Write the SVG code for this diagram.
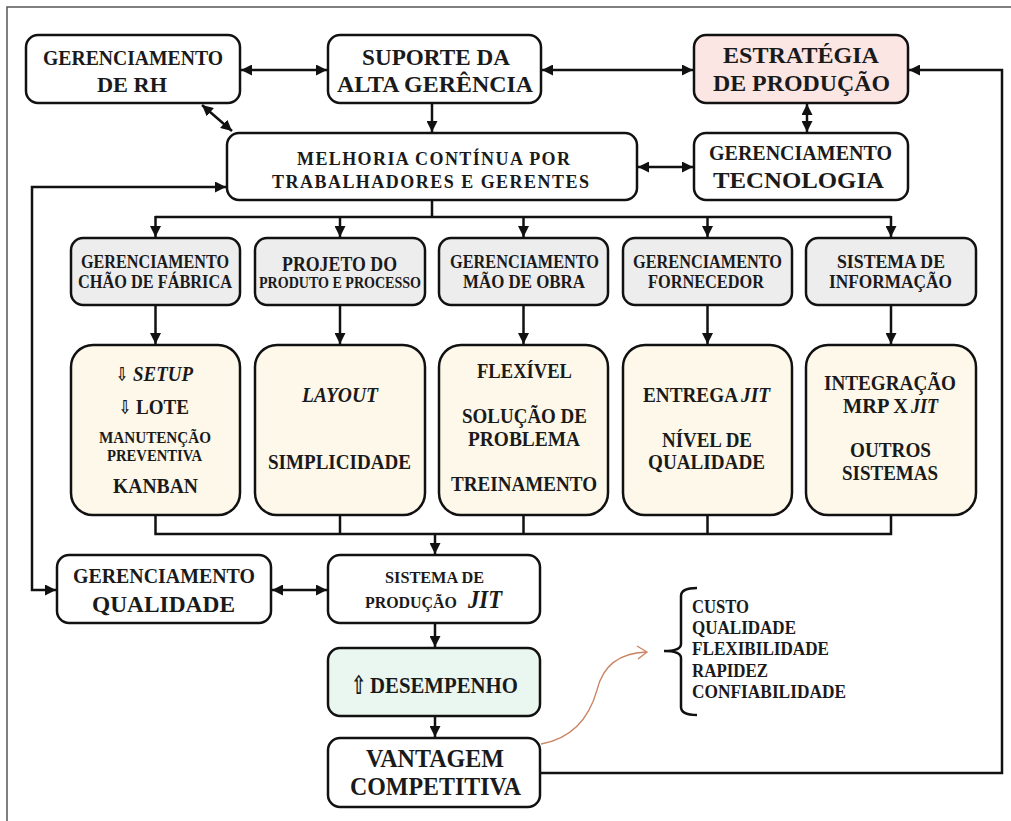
<svg xmlns="http://www.w3.org/2000/svg" width="1011" height="821" viewBox="0 0 1011 821">
  <defs>
    <style>
      .box { stroke: #111; stroke-width: 2.5; fill: #fff; }
      .grey { fill: #ededee; }
      .cream { fill: #fdf8ea; }
      .pink { fill: #fbe6e4; }
      .green { fill: #eaf7f0; }
      .t { font-family: "Liberation Serif", "Times New Roman", serif; font-weight: bold; fill: #1a1a1a; }
      .i { font-style: italic; }
      .sym { font-family: "DejaVu Sans", sans-serif; font-weight: bold; fill: #1a1a1a; }
      .c { stroke: #111; stroke-width: 2.5; fill: none; }
      .curve { stroke: #c98462; stroke-width: 1.3; fill: none; }
    </style>
    <marker id="ah" viewBox="0 0 10 10" refX="10" refY="5" markerWidth="11" markerHeight="11" markerUnits="userSpaceOnUse" orient="auto-start-reverse">
      <path d="M0,0 L10,5 L0,10 z" fill="#111"/>
    </marker>
  </defs>

  <rect width="1011" height="821" fill="#fff"/>
  <!-- page frame -->
  <rect x="7" y="7" width="1030" height="840" fill="none" stroke="#555" stroke-width="1.5"/>

  <!-- connectors -->
  <g id="connectors">
    <line class="c" x1="241" y1="70" x2="327" y2="70" marker-start="url(#ah)" marker-end="url(#ah)"/>
    <line class="c" x1="542" y1="70" x2="693" y2="70" marker-start="url(#ah)" marker-end="url(#ah)"/>
    <line class="c" x1="807" y1="104" x2="807" y2="132" marker-start="url(#ah)" marker-end="url(#ah)"/>
    <line class="c" x1="638" y1="167" x2="693" y2="167" marker-start="url(#ah)" marker-end="url(#ah)"/>
    <line class="c" x1="432" y1="104" x2="432" y2="132" marker-end="url(#ah)"/>
    <line class="c" x1="202" y1="105" x2="232" y2="131" marker-start="url(#ah)" marker-end="url(#ah)"/>
    <!-- feedback loop on the left -->
    <polyline class="c" points="226,187 32,187 32,590 56,590" marker-start="url(#ah)" marker-end="url(#ah)"/>
    <!-- feedback loop on the right -->
    <polyline class="c" points="541,773 1002,773 1002,70 909,70" marker-end="url(#ah)"/>
    <!-- distribution bus -->
    <polyline class="c" points="432,200 432,217"/>
    <line class="c" x1="155" y1="217" x2="891" y2="217"/>
    <line class="c" x1="155.5" y1="216" x2="155.5" y2="237" marker-end="url(#ah)"/>
    <line class="c" x1="340" y1="216" x2="340" y2="237" marker-end="url(#ah)"/>
    <line class="c" x1="523.5" y1="216" x2="523.5" y2="237" marker-end="url(#ah)"/>
    <line class="c" x1="707.5" y1="216" x2="707.5" y2="237" marker-end="url(#ah)"/>
    <line class="c" x1="891" y1="216" x2="891" y2="237" marker-end="url(#ah)"/>
    <!-- area to practice -->
    <line class="c" x1="155.5" y1="306" x2="155.5" y2="344" marker-end="url(#ah)"/>
    <line class="c" x1="340" y1="306" x2="340" y2="344" marker-end="url(#ah)"/>
    <line class="c" x1="523.5" y1="306" x2="523.5" y2="344" marker-end="url(#ah)"/>
    <line class="c" x1="707.5" y1="306" x2="707.5" y2="344" marker-end="url(#ah)"/>
    <line class="c" x1="891" y1="306" x2="891" y2="344" marker-end="url(#ah)"/>
    <!-- collector bus -->
    <polyline class="c" points="155.5,516 155.5,534 891,534 891,516"/>
    <line class="c" x1="340" y1="516" x2="340" y2="534"/>
    <line class="c" x1="523.5" y1="516" x2="523.5" y2="534"/>
    <line class="c" x1="707.5" y1="516" x2="707.5" y2="534"/>
    <line class="c" x1="435" y1="533" x2="435" y2="554" marker-end="url(#ah)"/>
    <line class="c" x1="272" y1="590" x2="327" y2="590" marker-start="url(#ah)" marker-end="url(#ah)"/>
    <line class="c" x1="435" y1="624" x2="435" y2="647" marker-end="url(#ah)"/>
    <line class="c" x1="435" y1="717" x2="435" y2="737" marker-end="url(#ah)"/>
    <!-- curved pointer to the list -->
    <path class="curve" d="M541,744 C575,738 590,715 597,690 C603,665 620,653 646,652"/>
    <path class="curve" d="M637,646 L647,652 L638,659"/>
    <!-- brace -->
    <path d="M697,588 Q681,588 681,596 L681,644 Q681,651 664,651 Q681,651 681,658 L681,707 Q681,715 697,715" fill="none" stroke="#111" stroke-width="2.5"/>
  </g>

  <!-- top row -->
  <g id="rh">
    <rect class="box" x="26" y="35" width="214" height="68" rx="12"/>
    <text class="t" x="43" y="65" font-size="22" textLength="180" lengthAdjust="spacingAndGlyphs">GERENCIAMENTO</text>
    <text class="t" x="97" y="92" font-size="22" textLength="70" lengthAdjust="spacingAndGlyphs">DE RH</text>
  </g>
  <g id="suporte">
    <rect class="box" x="328" y="35" width="213" height="68" rx="12"/>
    <text class="t" x="362" y="65" font-size="23" textLength="148" lengthAdjust="spacingAndGlyphs">SUPORTE DA</text>
    <text class="t" x="337" y="92" font-size="23" textLength="196" lengthAdjust="spacingAndGlyphs">ALTA GERÊNCIA</text>
  </g>
  <g id="estrategia">
    <rect class="box pink" x="694" y="35" width="214" height="68" rx="12"/>
    <text class="t" x="723" y="63" font-size="24" textLength="156" lengthAdjust="spacingAndGlyphs">ESTRATÉGIA</text>
    <text class="t" x="713" y="91" font-size="24" textLength="177" lengthAdjust="spacingAndGlyphs">DE PRODUÇÃO</text>
  </g>
  <g id="melhoria">
    <rect class="box" x="227" y="133" width="410" height="67" rx="12"/>
    <text class="t" x="297" y="165" font-size="18" textLength="273" lengthAdjust="spacing">MELHORIA CONTÍNUA POR</text>
    <text class="t" x="272" y="188" font-size="18" textLength="317" lengthAdjust="spacing">TRABALHADORES E GERENTES</text>
  </g>
  <g id="tecnologia">
    <rect class="box" x="694" y="133" width="214" height="67" rx="12"/>
    <text class="t" x="709" y="160" font-size="22" textLength="183" lengthAdjust="spacingAndGlyphs">GERENCIAMENTO</text>
    <text class="t" x="713" y="188" font-size="24" textLength="171" lengthAdjust="spacingAndGlyphs">TECNOLOGIA</text>
  </g>

  <!-- management areas -->
  <g id="area-chao">
    <rect class="box grey" x="71" y="238" width="169" height="67" rx="12"/>
    <text class="t" x="81" y="268" font-size="18" textLength="148" lengthAdjust="spacingAndGlyphs">GERENCIAMENTO</text>
    <text class="t" x="78" y="288" font-size="18" textLength="154" lengthAdjust="spacingAndGlyphs">CHÃO  DE  FÁBRICA</text>
  </g>
  <g id="area-projeto">
    <rect class="box grey" x="255" y="238" width="170" height="67" rx="12"/>
    <text class="t" x="282" y="271" font-size="20" textLength="115" lengthAdjust="spacingAndGlyphs">PROJETO  DO</text>
    <text class="t" x="259" y="288" font-size="16" textLength="162" lengthAdjust="spacingAndGlyphs">PRODUTO E PROCESSO</text>
  </g>
  <g id="area-mao-de-obra">
    <rect class="box grey" x="439" y="238" width="169" height="67" rx="12"/>
    <text class="t" x="450" y="268" font-size="18" textLength="149" lengthAdjust="spacingAndGlyphs">GERENCIAMENTO</text>
    <text class="t" x="463" y="288" font-size="18" textLength="122" lengthAdjust="spacingAndGlyphs">MÃO  DE  OBRA</text>
  </g>
  <g id="area-fornecedor">
    <rect class="box grey" x="623" y="238" width="169" height="67" rx="12"/>
    <text class="t" x="633" y="268" font-size="18" textLength="149" lengthAdjust="spacingAndGlyphs">GERENCIAMENTO</text>
    <text class="t" x="648" y="288" font-size="18" textLength="116" lengthAdjust="spacingAndGlyphs">FORNECEDOR</text>
  </g>
  <g id="area-informacao">
    <rect class="box grey" x="806" y="238" width="170" height="67" rx="12"/>
    <text class="t" x="837" y="268" font-size="18" textLength="108" lengthAdjust="spacingAndGlyphs">SISTEMA  DE</text>
    <text class="t" x="829" y="288" font-size="18" textLength="123" lengthAdjust="spacingAndGlyphs">INFORMAÇÃO</text>
  </g>

  <!-- practices -->
  <g id="pratica-chao">
    <rect class="box cream" x="71" y="345" width="169" height="170" rx="22"/>
    <text class="sym" transform="translate(116 381) scale(0.75 1)" font-size="19">⇩</text>
    <text class="t i" x="133" y="381" font-size="20" textLength="60" lengthAdjust="spacingAndGlyphs">SETUP</text>
    <text class="sym" transform="translate(119 414) scale(0.75 1)" font-size="19">⇩</text>
    <text class="t" x="136" y="414" font-size="20" textLength="53" lengthAdjust="spacingAndGlyphs">LOTE</text>
    <text class="t" x="99" y="443" font-size="16" textLength="112" lengthAdjust="spacingAndGlyphs">MANUTENÇÃO</text>
    <text class="t" x="107" y="461" font-size="16" textLength="95" lengthAdjust="spacingAndGlyphs">PREVENTIVA</text>
    <text class="t" x="113" y="493" font-size="20" textLength="85" lengthAdjust="spacingAndGlyphs">KANBAN</text>
  </g>
  <g id="pratica-projeto">
    <rect class="box cream" x="255" y="345" width="170" height="170" rx="22"/>
    <text class="t i" x="302" y="402" font-size="20" textLength="76" lengthAdjust="spacingAndGlyphs">LAYOUT</text>
    <text class="t" x="268" y="469" font-size="20" textLength="143" lengthAdjust="spacingAndGlyphs">SIMPLICIDADE</text>
  </g>
  <g id="pratica-mao-de-obra">
    <rect class="box cream" x="439" y="345" width="169" height="170" rx="22"/>
    <text class="t" x="477" y="378" font-size="20" textLength="95" lengthAdjust="spacingAndGlyphs">FLEXÍVEL</text>
    <text class="t" x="462" y="423" font-size="20" textLength="125" lengthAdjust="spacingAndGlyphs">SOLUÇÃO DE</text>
    <text class="t" x="468" y="446" font-size="20" textLength="112" lengthAdjust="spacingAndGlyphs">PROBLEMA</text>
    <text class="t" x="451" y="491" font-size="20" textLength="146" lengthAdjust="spacingAndGlyphs">TREINAMENTO</text>
  </g>
  <g id="pratica-fornecedor">
    <rect class="box cream" x="623" y="345" width="169" height="170" rx="22"/>
    <text class="t" x="643" y="402" font-size="20" textLength="95" lengthAdjust="spacingAndGlyphs">ENTREGA</text>
    <text class="t i" x="741" y="402" font-size="20" textLength="29" lengthAdjust="spacingAndGlyphs">JIT</text>
    <text class="t" x="662" y="447" font-size="20" textLength="90" lengthAdjust="spacingAndGlyphs">NÍVEL DE</text>
    <text class="t" x="648" y="469" font-size="20" textLength="117" lengthAdjust="spacingAndGlyphs">QUALIDADE</text>
  </g>
  <g id="pratica-informacao">
    <rect class="box cream" x="806" y="345" width="170" height="170" rx="22"/>
    <text class="t" x="824" y="390" font-size="20" textLength="132" lengthAdjust="spacingAndGlyphs">INTEGRAÇÃO</text>
    <text class="t" x="843" y="413" font-size="20" textLength="65" lengthAdjust="spacingAndGlyphs">MRP X</text>
    <text class="t i" x="911" y="413" font-size="20" textLength="27" lengthAdjust="spacingAndGlyphs">JIT</text>
    <text class="t" x="850" y="457" font-size="20" textLength="81" lengthAdjust="spacingAndGlyphs">OUTROS</text>
    <text class="t" x="842" y="480" font-size="20" textLength="96" lengthAdjust="spacingAndGlyphs">SISTEMAS</text>
  </g>

  <!-- bottom chain -->
  <g id="qualidade">
    <rect class="box" x="57" y="555" width="214" height="68" rx="12"/>
    <text class="t" x="73" y="583" font-size="22" textLength="182" lengthAdjust="spacingAndGlyphs">GERENCIAMENTO</text>
    <text class="t" x="92" y="612" font-size="24" textLength="143" lengthAdjust="spacingAndGlyphs">QUALIDADE</text>
  </g>
  <g id="sistema-jit">
    <rect class="box" x="328" y="555" width="212" height="68" rx="12"/>
    <text class="t" x="385" y="583" font-size="16" textLength="99" lengthAdjust="spacingAndGlyphs">SISTEMA  DE</text>
    <text class="t" x="365" y="608" font-size="16" textLength="92" lengthAdjust="spacingAndGlyphs">PRODUÇÃO</text>
    <text class="t i" x="468" y="608" font-size="25" textLength="34" lengthAdjust="spacingAndGlyphs">JIT</text>
  </g>
  <g id="desempenho">
    <rect class="box green" x="328" y="648" width="212" height="68" rx="12"/>
    <text class="sym" transform="translate(351 694) scale(0.7 1)" font-size="26">⇧</text>
    <text class="t" x="370" y="693" font-size="23" textLength="148" lengthAdjust="spacingAndGlyphs">DESEMPENHO</text>
  </g>
  <g id="vantagem">
    <rect class="box" x="328" y="738" width="212" height="69" rx="12"/>
    <text class="t" x="366" y="767" font-size="25" textLength="138" lengthAdjust="spacingAndGlyphs">VANTAGEM</text>
    <text class="t" x="350" y="795" font-size="25" textLength="171" lengthAdjust="spacingAndGlyphs">COMPETITIVA</text>
  </g>

  <!-- competitive dimensions -->
  <g id="criterios">
    <text class="t" x="692" y="613" font-size="18" textLength="57" lengthAdjust="spacingAndGlyphs">CUSTO</text>
    <text class="t" x="692" y="634" font-size="18" textLength="104" lengthAdjust="spacingAndGlyphs">QUALIDADE</text>
    <text class="t" x="692" y="655" font-size="18" textLength="137" lengthAdjust="spacingAndGlyphs">FLEXIBILIDADE</text>
    <text class="t" x="692" y="677" font-size="18" textLength="76" lengthAdjust="spacingAndGlyphs">RAPIDEZ</text>
    <text class="t" x="692" y="698" font-size="18" textLength="154" lengthAdjust="spacingAndGlyphs">CONFIABILIDADE</text>
  </g>
</svg>
